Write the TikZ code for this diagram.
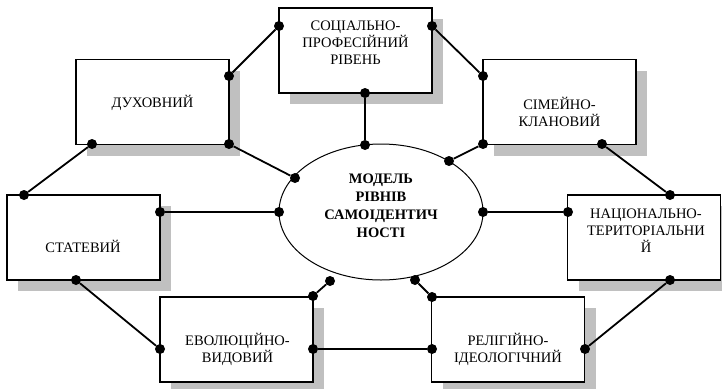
\documentclass[tikz,border=0pt]{standalone}
\usepackage{fontspec}
\setmainfont{Liberation Serif}
\usetikzlibrary{shapes.geometric,shadows}
\definecolor{shadowgray}{RGB}{192,192,192}

\begin{document}
\begin{tikzpicture}[x=1pt,y=-1pt,
  level box/.style={draw,line width=1.3pt,fill=white,inner sep=0pt,
    minimum width=153pt,minimum height=85pt,
    drop shadow={shadow xshift=11pt,shadow yshift=-11pt,fill=shadowgray,opacity=1}},
  level text/.style={align=center,inner sep=0pt,font=\fontsize{14.5}{17}\selectfont},
  joint/.style={circle,fill=black,minimum size=10pt,inner sep=0pt},
  link/.style={line width=1.8pt}]

  \useasboundingbox (0,0) rectangle (722,388);

  % Central concept: the model

  \node [draw,ellipse,line width=1pt,minimum width=204pt,minimum height=136pt,
    inner sep=0pt] (mod) at (381,212) {};
  \node [level text,font=\fontsize{14.5}{18}\selectfont\bfseries] (mod-t) at (381,206)
    {МОДЕЛЬ\\РІВНІВ\\САМОІДЕНТИЧ\\НОСТІ};

  % Levels of self-identity

  \node [level box] (soc) at (355.5,50.5) {};
  \node [level text] (soc-t) at (355.5,42.5) {СОЦІАЛЬНО-\\ПРОФЕСІЙНИЙ\\РІВЕНЬ};

  \node [level box] (duh) at (152.5,102) {};
  \node [level text] (duh-t) at (152.5,103) {ДУХОВНИЙ};

  \node [level box] (sem) at (559.5,102) {};
  \node [level text] (sem-t) at (559.5,111.5) {СІМЕЙНО-\\КЛАНОВИЙ};

  \node [level box] (sta) at (83.5,237.5) {};
  \node [level text] (sta-t) at (83,246) {СТАТЕВИЙ};

  \node [level box] (nat) at (644,237.5) {};
  \node [level text] (nat-t) at (646,231) {НАЦІОНАЛЬНО-\\ТЕРИТОРІАЛЬНИ\\Й};

  \node [level box] (evo) at (236.5,339.5) {};
  \node [level text] (evo-t) at (237.5,349.5) {ЕВОЛЮЦІЙНО-\\ВИДОВИЙ};

  \node [level box] (rel) at (508,339.5) {};
  \node [level text] (rel-t) at (508,349.5) {РЕЛІГІЙНО-\\ІДЕОЛОГІЧНИЙ};

  % Joints on the boxes and on the ellipse

  \node [joint] (duh r)  at (229,76)  {};
  \node [joint] (soc l)  at (279,26)  {};
  \node [joint] (soc r)  at (432,26)  {};
  \node [joint] (sem l)  at (483,76)  {};
  \node [joint] (soc b)  at (365,93)  {};
  \node [joint] (mod n)  at (365,145) {};
  \node [joint] (duh se) at (229,144) {};
  \node [joint] (mod nw) at (295,178) {};
  \node [joint] (sem sw) at (483,144) {};
  \node [joint] (mod ne) at (449,161) {};
  \node [joint] (duh b)  at (92,144)  {};
  \node [joint] (sta t)  at (24,195)  {};
  \node [joint] (sem b)  at (602,144) {};
  \node [joint] (nat t)  at (670,195) {};
  \node [joint] (sta r)  at (160,212) {};
  \node [joint] (mod w)  at (279,212) {};
  \node [joint] (mod e)  at (483,212) {};
  \node [joint] (nat l)  at (568,212) {};
  \node [joint] (sta b)  at (76,280)  {};
  \node [joint] (evo l)  at (160,349) {};
  \node [joint] (evo ne) at (313,296) {};
  \node [joint] (mod sw) at (330,281) {};
  \node [joint] (rel nw) at (432,297) {};
  \node [joint] (mod se) at (415,280) {};
  \node [joint] (evo r)  at (313,349) {};
  \node [joint] (rel l)  at (432,349) {};
  \node [joint] (rel r)  at (585,349) {};
  \node [joint] (nat b)  at (670,280) {};

  % Connections

  \draw [link]
    (duh r) -- (soc l)   (soc r) -- (sem l)
    (soc b) -- (mod n)   (duh se) -- (mod nw)
    (sem sw) -- (mod ne) (duh b) -- (sta t)
    (sem b) -- (nat t)   (sta r) -- (mod w)
    (mod e) -- (nat l)   (sta b) -- (evo l)
    (evo ne) -- (mod sw) (rel nw) -- (mod se)
    (evo r) -- (rel l)   (rel r) -- (nat b);
\end{tikzpicture}
\end{document}
